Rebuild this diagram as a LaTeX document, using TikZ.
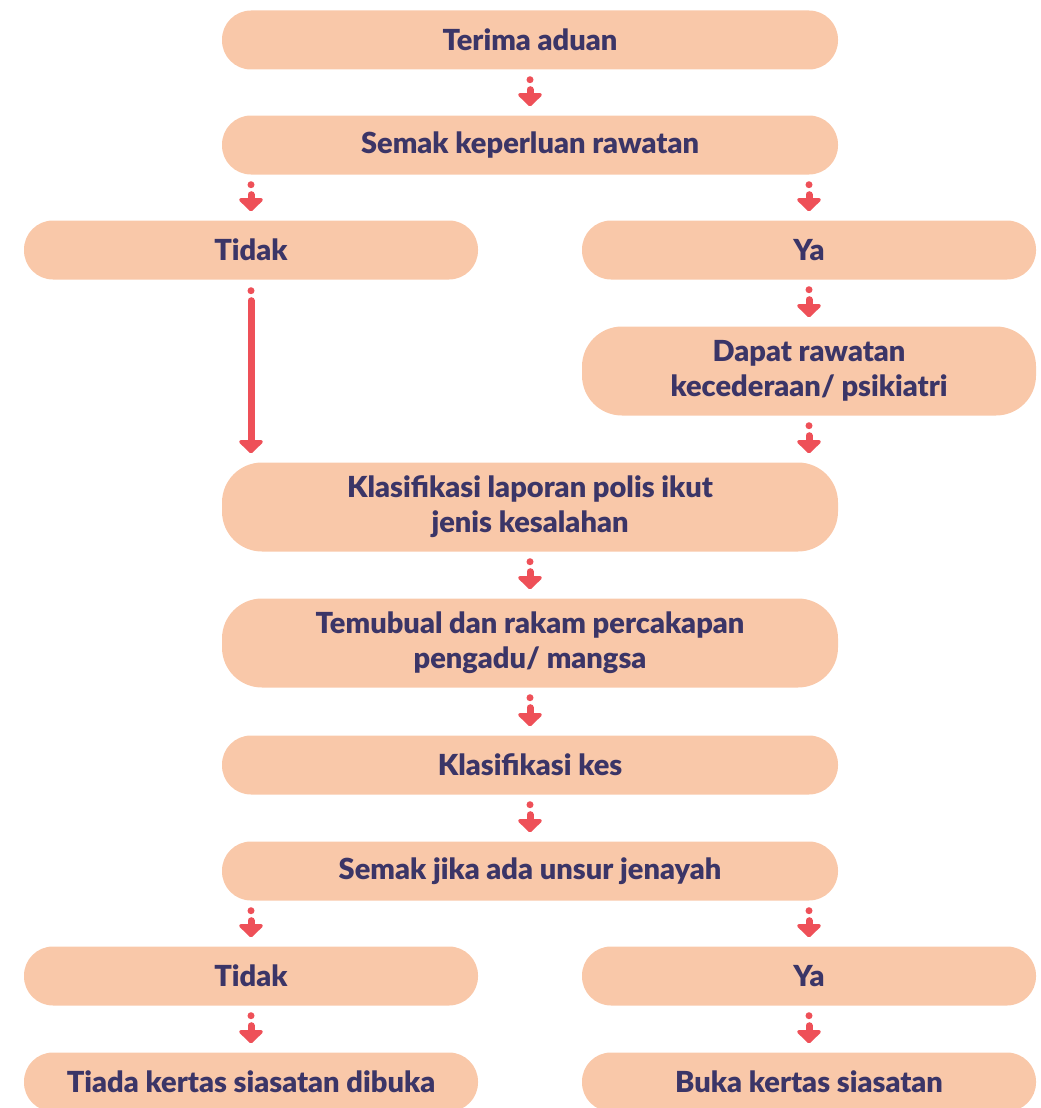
\documentclass[tikz,border=0pt]{standalone}
\usepackage{fontspec}
\IfFontExistsTF{Lato Black}{\setmainfont{Lato}[BoldFont={Lato Black}]}{\setmainfont{Lato}}
\usetikzlibrary{arrows.meta}
\definecolor{boxfill}{HTML}{F9C8A9}
\definecolor{boxtext}{HTML}{3B3567}
\definecolor{arrowred}{HTML}{EE5058}
\begin{document}
\begin{tikzpicture}[
        x=1pt,y=-1pt,
        flowbox/.style 2 args={fill=boxfill,rounded corners=#2,
                             minimum width=#1,minimum height=59pt,inner sep=0pt,
                             text=boxtext,align=center,
                             font=\fontsize{29}{35}\selectfont\bfseries},
        flowbox/.default={616pt}{29pt},
        flowarr/.style={draw=arrowred,line width=7pt,line cap=round,
                        dash pattern=on 0pt off 10pt on 2000pt,
                        shorten <=10pt,shorten >=9pt,
                        -{Triangle[length=14pt,width=28pt,round]}},
      ]
      \useasboundingbox (0,0) rectangle (1041,1108);
      % main column
      \node[flowbox] (terima) at (530,40) {Terima aduan};
      \node[flowbox] (semak) at (530,145) {Semak keperluan rawatan};
      \node[flowbox={454pt}{29pt}] (tidak) at (251,250) {Tidak};
      \node[flowbox={454pt}{29pt}] (ya) at (809,250) {Ya};
      \node[flowbox={454pt}{40pt},minimum height=89pt] (dapat) at (809,371) {Dapat rawatan\\kecederaan/ psikiatri};
      \node[flowbox={616pt}{40pt},minimum height=89pt] (laporan) at (530,507) {Klasifikasi laporan polis ikut\\jenis kesalahan};
      \node[flowbox={616pt}{40pt},minimum height=89pt] (temubual) at (530,643) {Temubual dan rakam percakapan\\pengadu/ mangsa};
      \node[flowbox] (kes) at (530,765) {Klasifikasi kes};
      \node[flowbox] (jenayah) at (530,871) {Semak jika ada unsur jenayah};
      % outcome
      \node[flowbox={454pt}{29pt}] (tidakb) at (251,976) {Tidak};
      \node[flowbox={454pt}{29pt}] (yab) at (809,976) {Ya};
      \node[flowbox={454pt}{29pt}] (tiada) at (251,1082) {Tiada kertas siasatan dibuka};
      \node[flowbox={454pt}{29pt}] (buka) at (809,1082) {Buka kertas siasatan};
      % straight down
      \foreach \a/\b in {terima/semak,ya/dapat,laporan/temubual,temubual/kes,kes/jenayah,tidakb/tiada,yab/buka}
        \draw[flowarr] (\a) -- (\b);
      % branches
      \foreach \a/\b in {semak/tidak,semak/ya,jenayah/tidakb,jenayah/yab}
        \draw[flowarr] (\a.south -| \b) -- (\b);
      \draw[flowarr] (dapat) -- (dapat |- laporan.north);
      % long one
      \draw[flowarr,shorten <=11pt] (tidak) -- (tidak |- laporan.north);
    \end{tikzpicture}
\end{document}
